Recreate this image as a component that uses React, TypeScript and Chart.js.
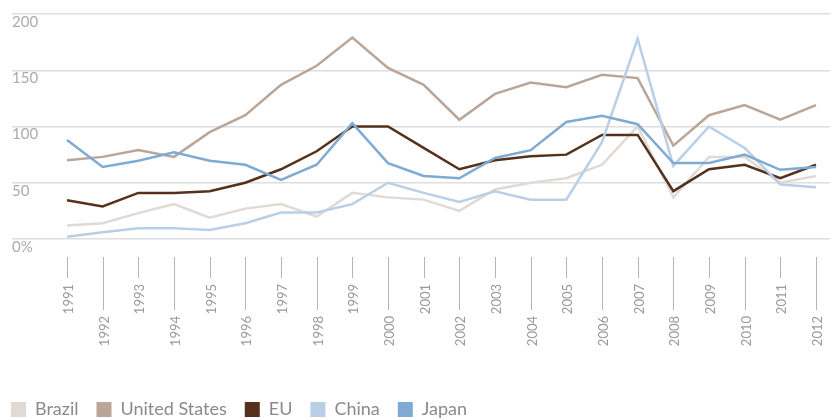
import { useEffect, useRef } from 'react';
import { Chart, registerables } from 'chart.js';

Chart.register(...registerables);

const years = [1991, 1992, 1993, 1994, 1995, 1996, 1997, 1998, 1999, 2000, 2001, 2002, 2003, 2004, 2005, 2006, 2007, 2008, 2009, 2010, 2011, 2012];
const yearLabels = years.map(String);

const brazil = [12, 14, 23, 31, 19, 27, 31, 20, 41, 37, 35, 25, 44, 50, 54, 66, 100, 37, 73, 73, 50, 56];
const unitedStates = [70, 73, 79, 73, 95, 110, 137, 154, 179, 152, 137, 106, 129, 139, 135, 146, 143, 83, 110, 119, 106, 119];
const eu = [34.5, 29, 41, 41, 42.5, 50, 62, 78, 100, 100, 81, 62, 70, 73.5, 75, 92.5, 92.5, 42.5, 62, 66, 54, 66];
const china = [2, 6, 9.5, 9.5, 8, 14, 23.5, 23.5, 31, 50, 41, 33, 42.5, 35, 35, 86, 178, 65, 100, 81, 48.5, 46];
const japan = [88, 64, 69.5, 77, 69.5, 66, 52.5, 66, 103, 67.5, 56, 54, 72, 79, 104, 109.5, 102, 67.5, 67.5, 75, 61.5, 64];

const seriesNames = ['Brazil', 'United States', 'EU', 'China', 'Japan'];
const seriesColors = ['#e1dad4', '#b9a698', '#55301b', '#b8cfe7', '#7eaad3'];
const seriesValues = [brazil, unitedStates, eu, china, japan];
const yTickValues = [0, 50, 100, 150, 200];

const FONT = 'Lato, "Open Sans", sans-serif';

export default function App() {
  const ref = useRef<HTMLCanvasElement>(null);

  useEffect(() => {
    document.body.style.margin = '0';
    document.body.style.overflow = 'hidden';
    const canvas = ref.current;
    if (!canvas) return;

    const xTickPlugin = {
      id: 'xTickPlugin',
      afterDraw(chart: any) {
        const xs = chart.scales.x;
        const ctx = chart.ctx;
        const top = chart.chartArea.bottom + 18;
        ctx.save();
        ctx.strokeStyle = '#b4b4b4';
        ctx.lineWidth = 1;
        ctx.fillStyle = '#9a9a9a';
        ctx.font = `13px ${FONT}`;
        xs.ticks.forEach((t: any, i: number) => {
          const x = Math.round(xs.getPixelForValue(t.value)) + 0.5;
          const end = i % 2 === 0 ? top + 21 : top + 53;
          ctx.beginPath();
          ctx.moveTo(x, top);
          ctx.lineTo(x, end);
          ctx.stroke();
          ctx.save();
          ctx.translate(x + 1, end + 6);
          ctx.rotate(-Math.PI / 2);
          ctx.textAlign = 'right';
          ctx.textBaseline = 'middle';
          ctx.fillText(yearLabels[i], 0, 0);
          ctx.restore();
        });
        ctx.restore();
      },
    };

    const chart = new Chart(canvas, {
      type: 'line',
      data: {
        datasets: seriesNames.map((name, s) => ({
          label: name,
          data: seriesValues[s].map((v, i) => ({ x: years[i], y: v })),
          borderColor: seriesColors[s],
          backgroundColor: seriesColors[s],
          borderWidth: 2.5,
          pointRadius: 0,
          tension: 0,
          order: 5 - s,
        })),
      },
      options: {
        animation: false,
        responsive: true,
        maintainAspectRatio: false,
        layout: { padding: { left: -7, right: 3, top: 14, bottom: -10.5 } },
        plugins: {
          tooltip: { enabled: false },
          legend: {
            position: 'bottom',
            align: 'start',
            labels: {
              boxWidth: 15,
              boxHeight: 15,
              padding: 18,
              color: '#8a8a8a',
              font: { family: FONT, size: 18 },
              sort: (a: any, b: any) => a.datasetIndex - b.datasetIndex,
              generateLabels: (c: any) =>
                (Chart.defaults.plugins.legend.labels as any)
                  .generateLabels(c)
                  .map((l: any) => ({ ...l, lineWidth: 0 })),
            },
          },
        },
        scales: {
          x: {
            type: 'linear',
            min: 1989.458,
            max: 2012.393,
            grid: { display: false },
            border: { display: false },
            ticks: { display: false },
            afterBuildTicks: (s: any) => {
              s.ticks = years.map((y) => ({ value: y }));
            },
            afterFit: (s: any) => {
              s.height = 143.5;
              s.paddingLeft = 0;
              s.paddingRight = 0;
            },
          },
          y: {
            min: 0,
            max: 200,
            border: { display: false },
            grid: { color: '#dedede', lineWidth: 1.5, drawTicks: false },
            afterBuildTicks: (s: any) => {
              s.ticks = yTickValues.map((v) => ({ value: v }));
            },
            ticks: {
              mirror: true,
              padding: 0,
              labelOffset: 8,
              color: '#ababab',
              font: { family: FONT, size: 15 },
              callback: (v: any) => (v === 0 ? '0%' : String(v)),
            },
            afterFit: (s: any) => {
              s.width = 19;
              s.paddingTop = 0;
              s.paddingBottom = 0;
            },
          },
        },
      },
      plugins: [xTickPlugin],
    });

    return () => chart.destroy();
  }, []);

  return (
    <div style={{ width: 833, height: 418, position: 'relative' }}>
      <canvas ref={ref} />
    </div>
  );
}
